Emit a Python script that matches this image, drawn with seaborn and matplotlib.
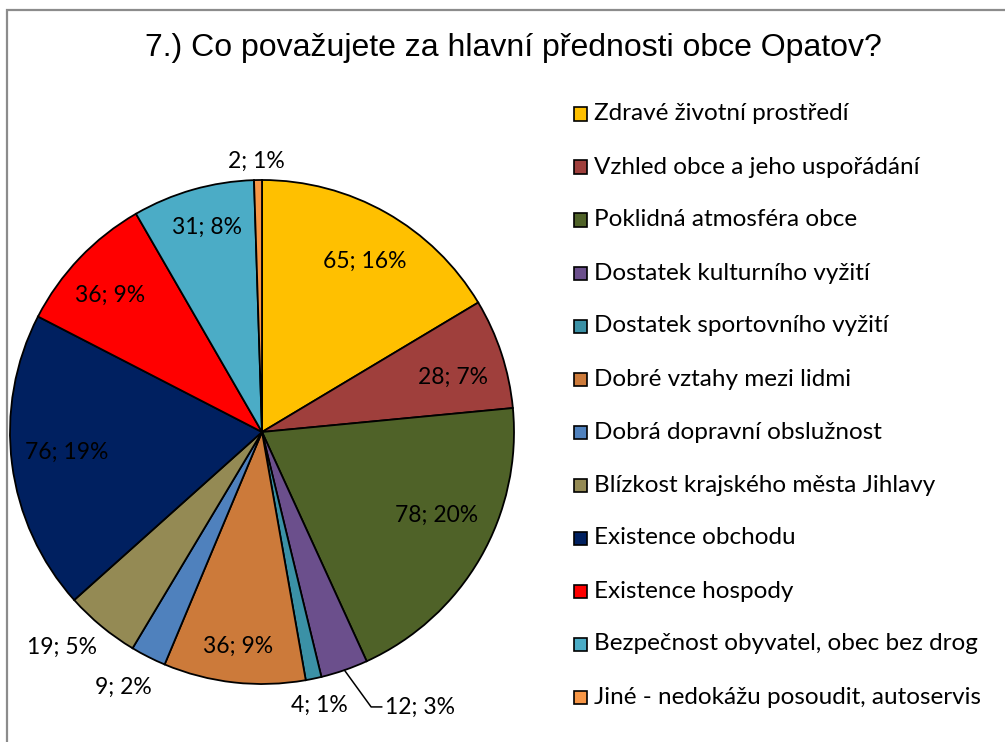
import numpy as np
import matplotlib
matplotlib.use("Agg")
import matplotlib.pyplot as plt
from matplotlib.patches import Rectangle
import seaborn as sns

# data
categories = [
    "Zdravé životní prostředí",
    "Vzhled obce a jeho uspořádání",
    "Poklidná atmosféra obce",
    "Dostatek kulturního vyžití",
    "Dostatek sportovního vyžití",
    "Dobré vztahy mezi lidmi",
    "Dobrá dopravní obslužnost",
    "Blízkost krajského města Jihlavy",
    "Existence obchodu",
    "Existence hospody",
    "Bezpečnost obyvatel, obec bez drog",
    "Jiné - nedokážu posoudit, autoservis",
]
counts = [65, 28, 78, 12, 4, 36, 9, 19, 76, 36, 31, 2]
colors = ["#FFC000", "#9F3F3C", "#4F6228", "#6B4F8C", "#3B91A6", "#CC7A3A",
          "#4F81BD", "#948A54", "#002060", "#FF0000", "#4BACC6", "#F79646"]
title = "7.) Co považujete za hlavní přednosti obce Opatov?"

# label placement (radius as fraction of pie radius, clockwise angle nudge in degrees)
label_r = [0.79, 0.79, 0.77, None, 1.11, 0.855, 1.155, 1.167, 0.78, 0.81, 0.84, 1.076]
label_nudge = [1.4, 2.1, -4.4, 0, 0, 0, 1.7, 3.3, 1.2, -1.6, 0.8, -0.2]

sns.set_theme(style="white")
plt.rcParams["font.family"] = ["Lato", "DejaVu Sans"]
plt.rcParams["text.color"] = "black"

W, H = 1005, 742
fig = plt.figure(figsize=(W / 100, H / 100), dpi=100)
fig.patch.set_facecolor("white")

# chart frame
fig.add_artist(Rectangle((7 / W, -0.1), 1.2, (H - 10) / H + 0.1,
                         transform=fig.transFigure, fill=False,
                         edgecolor="#8C8C8C", lw=1.6))

cx, cy, R = 262, 432, 252
ax = fig.add_axes([(cx - R) / W, (H - cy - R) / H, 2 * R / W, 2 * R / H])
wedges, _ = ax.pie(counts, colors=colors, startangle=90, counterclock=False,
                   radius=1.0, wedgeprops=dict(edgecolor="black", linewidth=1.3))
ax.set_xlim(-1, 1)
ax.set_ylim(-1, 1)
ax.set_aspect("equal")
ax.axis("off")

total = sum(counts)
for i, (w, n) in enumerate(zip(wedges, counts)):
    pct = max(round(100 * n / total), 1)
    txt = f"{n}; {pct}%"
    mid = np.deg2rad((w.theta1 + w.theta2) / 2)
    if label_r[i] is None:
        # leader line: wedge edge -> knee -> horizontal to the label
        x0, y0 = np.cos(mid), np.sin(mid)
        ax.plot([x0, 0.433, 0.476], [y0, -1.091, -1.091], color="black",
                lw=1.1, clip_on=False)
        ax.text(0.49, -1.091, txt, ha="left", va="center", fontsize=16.5)
        continue
    a = mid - np.deg2rad(label_nudge[i])
    r = label_r[i]
    ax.text(r * np.cos(a), r * np.sin(a), txt, ha="center", va="center",
            fontsize=16.5)

# legend
for i, (lab, c) in enumerate(zip(categories, colors)):
    yc = 114 + i * 53
    fig.add_artist(Rectangle((574 / W, 1 - (yc + 6.5) / H), 13 / W, 13 / H,
                             transform=fig.transFigure, facecolor=c,
                             edgecolor="black", lw=1.2))
    fig.text(594 / W, 1 - yc / H, lab, ha="left", va="center", fontsize=17.5)

fig.text(513 / W, 1 - 48 / H, title, ha="center", va="center", fontsize=23,
         family=["Liberation Sans", "DejaVu Sans"])

fig.savefig("out.png", dpi=100)
